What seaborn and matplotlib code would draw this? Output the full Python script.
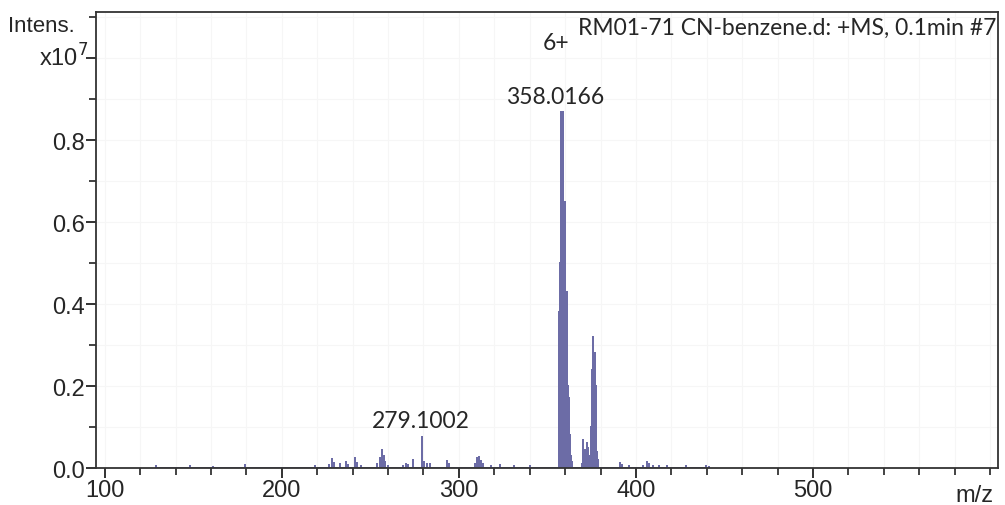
import numpy as np
import pandas as pd
import matplotlib
matplotlib.use("Agg")
import matplotlib.pyplot as plt
import seaborn as sns
from matplotlib.ticker import MultipleLocator

# ---- data (intensity in units of 1e7) ----
small_mz = [129.0, 148.0, 161.0, 178.9, 218.9, 226.6, 228.5, 229.3, 233.0, 236.0,
            237.2, 241.5, 242.5, 244.5, 254.0, 255.2, 256.5, 257.5, 258.5, 260.0,
            268.5, 270.0, 271.3, 273.8, 279.1, 280.2, 282.0, 283.5, 293.5, 294.5,
            309.0, 310.5, 311.5, 312.5, 313.5, 318.0, 323.0, 331.0, 340.0,
            391.0, 392.0, 396.0, 404.0, 406.5, 407.5, 409.5, 413.0, 417.5, 428.0,
            439.5, 441.0]
small_int = [0.004, 0.004, 0.003, 0.007, 0.006, 0.008, 0.022, 0.012, 0.010, 0.015,
             0.008, 0.025, 0.012, 0.006, 0.010, 0.025, 0.044, 0.030, 0.015, 0.005,
             0.006, 0.010, 0.008, 0.020, 0.076, 0.015, 0.010, 0.010, 0.018, 0.010,
             0.010, 0.024, 0.027, 0.018, 0.010, 0.006, 0.008, 0.004, 0.005,
             0.012, 0.008, 0.006, 0.006, 0.016, 0.010, 0.006, 0.004, 0.006, 0.004,
             0.004, 0.003]

main_mz = [356.4, 356.6, 356.8, 357.0, 357.2, 357.4, 357.6, 357.8, 358.0, 358.2,
           358.4, 358.6, 358.8, 359.0, 359.2, 359.5, 359.8, 360.1, 360.4, 360.7,
           361.0, 361.2, 361.5, 361.8, 362.2, 362.6, 363.0, 363.5, 364.0]
main_int = [0.38, 0.30, 0.22, 0.30, 0.50, 0.87, 0.55, 0.42, 0.40, 0.42,
            0.45, 0.42, 0.40, 0.87, 0.60, 0.42, 0.50, 0.65, 0.42, 0.30,
            0.38, 0.43, 0.20, 0.12, 0.17, 0.08, 0.05, 0.03, 0.015]

second_mz = [369.5, 370.3, 370.6, 371.0, 371.5, 372.0, 372.6, 373.0, 373.4, 374.0,
             374.6, 375.0, 375.3, 375.6, 375.9, 376.3, 376.6, 377.0, 377.3, 377.6,
             378.0, 378.5]
second_int = [0.01, 0.068, 0.04, 0.03, 0.045, 0.02, 0.06, 0.05, 0.03, 0.02,
              0.10, 0.15, 0.24, 0.32, 0.12, 0.10, 0.14, 0.28, 0.20, 0.10,
              0.04, 0.02]

x_ticks = [100, 200, 300, 400, 500]
y_ticks = [0.0, 0.2, 0.4, 0.6, 0.8]

title_text = "RM01-71 CN-benzene.d: +MS, 0.1min #7"
# (m/z, peak top, text, x offset pt, y offset pt)
labels = [(358.0166, 0.87, "358.0166", -5, 11),
          (358.0166, 0.87, "6+", -4, 50),
          (279.1002, 0.076, "279.1002", -1, 12)]

# ---- build stick profile ----
mz_all = np.array(small_mz + main_mz + second_mz)
int_all = np.array(small_int + main_int + second_int)
order = np.argsort(mz_all)
mz_all, int_all = mz_all[order], int_all[order]
px, py = [], []
for m, h in zip(mz_all, int_all):
    px += [m, m, m]
    py += [0.0, h, 0.0]
df = pd.DataFrame({"mz": px, "intens": py})

sns.set_theme(style="white")
plt.rcParams["font.family"] = ["Liberation Sans", "DejaVu Sans"]

fig = plt.figure(figsize=(10.05, 5.06), dpi=100)
ax = fig.add_axes([0.0955, 0.073, 0.8975, 0.901])

col = "#6c6ca6"
sns.lineplot(data=df, x="mz", y="intens", sort=False, estimator=None,
             color=col, lw=1.3, ax=ax)

ax.set_xlim(95, 604.5)
ax.set_ylim(0, 1.113)
ax.set_xlabel("")
ax.set_ylabel("")

ax.xaxis.set_minor_locator(MultipleLocator(20))
ax.yaxis.set_minor_locator(MultipleLocator(0.1))
ax.set_xticks(x_ticks)
ax.set_xticklabels([str(v) for v in x_ticks])
ax.set_yticks(y_ticks + [1.0])
ax.set_yticklabels([f"{v:.1f}" for v in y_ticks] + [""])
ax.tick_params(axis="both", which="major", direction="out", length=7, width=1.3,
               color="#222222", labelsize=17, pad=1, bottom=True, left=True)
ax.tick_params(axis="both", which="minor", direction="out", length=5, width=1.2,
               color="#222222", bottom=True, left=True)
ax.grid(True, which="both", color="#f6f6f6", lw=0.8)
for s in ax.spines.values():
    s.set_color("#333333")
    s.set_linewidth(1.3)

# axis captions
fig.text(0.008, 0.947, "Intens.", fontsize=16, ha="left", va="center")
fig.text(0.088, 0.885, "x10$^7$", fontsize=17, ha="right", va="center")
ax.text(0.995, -0.035, "m/z", transform=ax.transAxes, fontsize=17,
        ha="right", va="top")

ax.text(0.998, 0.99, title_text, transform=ax.transAxes, fontsize=16.5,
        ha="right", va="top", family=["Lato", "DejaVu Sans"])

for xm, ym, lab, dx, dy in labels:
    ax.annotate(lab, (xm, ym), xytext=(dx, dy), textcoords="offset points",
                ha="center", va="center", fontsize=16.5,
                family=["Lato", "DejaVu Sans"])

fig.savefig("out.png", dpi=100)
